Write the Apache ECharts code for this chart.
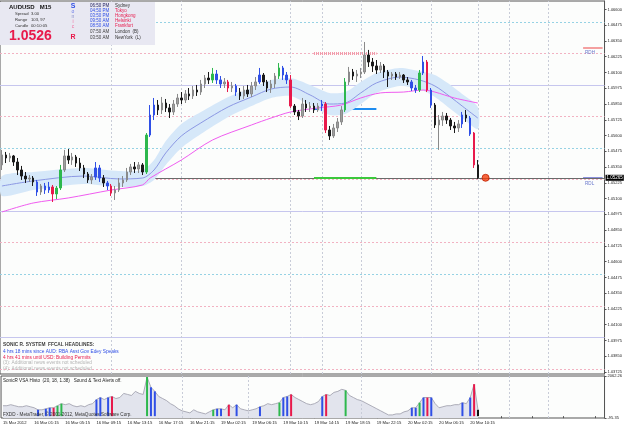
<!DOCTYPE html>
<html>
<head>
<meta charset="utf-8">
<title>AUDUSD M15</title>
<script src="https://cdn.jsdelivr.net/npm/echarts@6/dist/echarts.min.js"></script>
<style>
html, body { margin: 0; padding: 0; background: #fff; }
#chart { width: 625px; height: 429px; }
</style>
</head>
<body>
<div id="chart"></div>
<script>
// x axis tick labels, one every 8 bars
var timeLabels = ['15 Mar 2012', '16 Mar 01:15', '16 Mar 05:15', '16 Mar 09:15', '16 Mar 13:15', '16 Mar 17:15',
    '16 Mar 21:15', '19 Mar 02:15', '19 Mar 06:15', '19 Mar 10:15', '19 Mar 14:15', '19 Mar 18:15',
    '19 Mar 22:15', '20 Mar 02:15', '20 Mar 06:15', '20 Mar 10:15'];
var barCount = 155;

var priceTicks = [1.06600, 1.06475, 1.06350, 1.06225, 1.06100, 1.05975, 1.05850, 1.05725, 1.05600, 1.05475,
    1.05350, 1.05225, 1.05100, 1.04975, 1.04850, 1.04725, 1.04600, 1.04475, 1.04350, 1.04225,
    1.04100, 1.03975, 1.03850, 1.03725];

// [open, close, low, high]
var candles = [
    [1.05367,1.05446,1.05327,1.05486],[1.05446,1.05422,1.05382,1.05470],[1.05422,1.05438,1.05390,1.05462],
    [1.05438,1.05390,1.05359,1.05446],[1.05390,1.05327,1.05287,1.05422],[1.05327,1.05279,1.05248,1.05359],
    [1.05279,1.05256,1.05224,1.05311],[1.05256,1.05263,1.05232,1.05287],[1.05263,1.05232,1.05200,1.05279],
    [1.05232,1.05152,1.05121,1.05248],[1.05152,1.05200,1.05129,1.05216],[1.05200,1.05168,1.05137,1.05224],
    [1.05168,1.05192,1.05145,1.05232],[1.05192,1.05137,1.05073,1.05208],[1.05137,1.05184,1.05097,1.05200],
    [1.05184,1.05327,1.05168,1.05367],[1.05327,1.05438,1.05311,1.05486],[1.05438,1.05406,1.05375,1.05493],
    [1.05406,1.05430,1.05367,1.05462],[1.05430,1.05382,1.05351,1.05446],[1.05382,1.05343,1.05319,1.05422],
    [1.05343,1.05295,1.05263,1.05367],[1.05295,1.05248,1.05224,1.05311],[1.05248,1.05271,1.05216,1.05295],
    [1.05271,1.05343,1.05248,1.05390],[1.05343,1.05263,1.05232,1.05367],[1.05263,1.05224,1.05192,1.05287],
    [1.05224,1.05200,1.05168,1.05240],[1.05200,1.05145,1.05121,1.05216],[1.05145,1.05168,1.05089,1.05200],
    [1.05168,1.05224,1.05152,1.05263],[1.05224,1.05248,1.05192,1.05279],[1.05248,1.05311,1.05232,1.05343],
    [1.05311,1.05351,1.05287,1.05375],[1.05351,1.05335,1.05303,1.05390],[1.05335,1.05367,1.05303,1.05390],
    [1.05367,1.05311,1.05287,1.05382],[1.05311,1.05604,1.05295,1.05620],[1.05604,1.05763,1.05589,1.05842],
    [1.05763,1.05842,1.05723,1.05898],[1.05842,1.05803,1.05763,1.05882],[1.05803,1.05858,1.05771,1.05906],
    [1.05858,1.05819,1.05787,1.05890],[1.05819,1.05787,1.05739,1.05850],[1.05787,1.05850,1.05763,1.05882],
    [1.05850,1.05898,1.05827,1.05930],[1.05898,1.05882,1.05850,1.05945],[1.05882,1.05930,1.05858,1.05961],
    [1.05930,1.05914,1.05882,1.05977],[1.05914,1.05961,1.05890,1.05993],[1.05961,1.05945,1.05914,1.06001],
    [1.05945,1.06009,1.05922,1.06041],[1.06009,1.06056,1.05977,1.06080],[1.06056,1.06041,1.06009,1.06104],
    [1.06041,1.06088,1.06017,1.06136],[1.06088,1.06041,1.06009,1.06120],[1.06041,1.06009,1.05977,1.06072],
    [1.06009,1.06025,1.05977,1.06056],[1.06025,1.05977,1.05945,1.06041],[1.05977,1.05993,1.05945,1.06025],
    [1.05993,1.05945,1.05914,1.06009],[1.05945,1.05914,1.05882,1.05977],[1.05914,1.05961,1.05890,1.05993],
    [1.05961,1.05930,1.05906,1.06001],[1.05930,1.05993,1.05906,1.06025],[1.05993,1.06025,1.05961,1.06064],
    [1.06025,1.06080,1.06009,1.06136],[1.06080,1.06025,1.05993,1.06096],[1.06025,1.05977,1.05945,1.06041],
    [1.05977,1.06009,1.05938,1.06041],[1.06009,1.06072,1.05977,1.06096],[1.06072,1.06136,1.06049,1.06175],
    [1.06136,1.06080,1.06041,1.06152],[1.06080,1.06041,1.06009,1.06104],[1.06041,1.05834,1.05819,1.06080],
    [1.05834,1.05787,1.05763,1.05850],[1.05787,1.05755,1.05723,1.05803],[1.05755,1.05850,1.05739,1.05898],
    [1.05850,1.05819,1.05787,1.05882],[1.05819,1.05834,1.05787,1.05866],[1.05834,1.05803,1.05779,1.05858],
    [1.05803,1.05834,1.05787,1.05858],[1.05834,1.05850,1.05795,1.05882],[1.05850,1.05644,1.05620,1.05866],
    [1.05644,1.05597,1.05565,1.05676],[1.05597,1.05660,1.05581,1.05692],[1.05660,1.05708,1.05628,1.05739],
    [1.05708,1.05803,1.05684,1.05834],[1.05803,1.06025,1.05787,1.06056],[1.06025,1.06104,1.06001,1.06144],
    [1.06104,1.06072,1.06041,1.06128],[1.06072,1.06088,1.06025,1.06120],[1.06088,1.06104,1.06056,1.06136],
    [1.06104,1.06239,1.06088,1.06342],[1.06239,1.06183,1.06144,1.06279],[1.06183,1.06152,1.06104,1.06215],
    [1.06152,1.06120,1.06088,1.06199],[1.06120,1.06152,1.06096,1.06183],[1.06152,1.06104,1.06056,1.06167],
    [1.06104,1.06072,1.05985,1.06120],[1.06072,1.06088,1.06041,1.06104],[1.06088,1.06064,1.06041,1.06104],
    [1.06064,1.06080,1.06049,1.06104],[1.06080,1.06041,1.06017,1.06088],[1.06041,1.06025,1.06001,1.06064],
    [1.06025,1.05977,1.05953,1.06041],[1.05977,1.05961,1.05938,1.06001],[1.05961,1.06096,1.05945,1.06120],
    [1.06096,1.06183,1.06080,1.06231],[1.06183,1.05961,1.05945,1.06199],[1.05961,1.05842,1.05819,1.05977],
    [1.05842,1.05684,1.05660,1.05858],[1.05684,1.05723,1.05486,1.05763],[1.05723,1.05755,1.05676,1.05787],
    [1.05755,1.05723,1.05692,1.05779],[1.05723,1.05676,1.05644,1.05739],[1.05676,1.05660,1.05620,1.05708],
    [1.05660,1.05692,1.05628,1.05723],[1.05692,1.05763,1.05660,1.05787],[1.05763,1.05739,1.05708,1.05803],
    [1.05739,1.05612,1.05597,1.05755],[1.05620,1.05367,1.05343,1.05628],[1.05367,1.05265,1.05256,1.05406]
];

// VSA histogram
var volumes = [536,536,589,536,484,484,536,484,431,326, 326,378,431,431,536,641,589,641,536,484,
    536,484,589,641,852,957,852,957,1010,904, 957,1167,1115,1062,1273,1167,1115,2009,1483,1273,
    1010,904,799,641,536,378,273,221,168,326, 221,168,115,221,326,378,378,326,589,431,
    589,378,326,273,326,378,484,536,641,589, 641,694,957,1010,1115,957,852,747,641,589,
    641,747,1010,1115,1062,1220,1273,1378,1325,1062, 957,852,799,694,589,484,378,273,168,63,
    63,115,115,221,273,431,431,694,957,957, 957,641,431,484,536,536,589,589,694,641,
    957,1641,326];
var blueBars = [9, 11, 12, 24, 25, 27, 38, 39, 55, 56, 60, 66, 72, 73, 82, 105, 106, 108, 110, 118, 120];
var redBars = [13, 28, 58, 74, 83, 109, 121];
var greenBars = [14, 15, 37, 54, 71, 88, 107];
var blackBars = [122];
var volMin = -95.35, volMax = 2062.26;

// moving average band and slow average, [bar, price]
var bandMid = [[0,1.05200],[8,1.05240],[21,1.05279],[30,1.05256],[36,1.05263],[39,1.05327],[42,1.05462],
    [46,1.05597],[51,1.05700],[58,1.05827],[64,1.05906],[69,1.05969],[74,1.05985],[79,1.05922],[84,1.05850],
    [88,1.05858],[92,1.05938],[96,1.06017],[102,1.06064],[107,1.06041],[111,1.05993],[115,1.05906],
    [118,1.05834],[122,1.05739]];
var bandUpper = [[0,1.05279],[8,1.05311],[21,1.05343],[30,1.05319],[36,1.05327],[39,1.05406],[42,1.05557],
    [46,1.05692],[51,1.05787],[58,1.05906],[64,1.05977],[69,1.06041],[74,1.06056],[79,1.06001],[84,1.05938],
    [88,1.05945],[92,1.06025],[96,1.06096],[102,1.06136],[107,1.06112],[111,1.06080],[115,1.06001],
    [118,1.05930],[122,1.05827]];
var bandLower = [[0,1.05121],[8,1.05168],[21,1.05216],[30,1.05192],[36,1.05200],[39,1.05248],[42,1.05367],
    [46,1.05501],[51,1.05612],[58,1.05747],[64,1.05834],[69,1.05898],[74,1.05914],[79,1.05842],[84,1.05763],
    [88,1.05771],[92,1.05850],[96,1.05938],[102,1.05993],[107,1.05969],[111,1.05906],[115,1.05811],
    [118,1.05739],[122,1.05652]];
var slowLine = [[0,1.04994],[8,1.05065],[17,1.05105],[28,1.05168],[36,1.05208],[38,1.05263],[46,1.05406],
    [54,1.05565],[64,1.05684],[69,1.05739],[74,1.05787],[81,1.05819],[87,1.05842],[92,1.05898],[97,1.05938],
    [103,1.05945],[108,1.05961],[111,1.05945],[116,1.05898],[122,1.05858]];

// level lines
var lavenderLevels = [1.06, 1.05, 1.04];
var cyanLevels = [1.065, 1.055, 1.045];
var pinkLevels = [1.0625, 1.0575, 1.0525, 1.0475, 1.0425, 1.0375];
var lastPrice = 1.05265;
var rdhPrice = 1.06294, rdlPrice = 1.05271;
var boxTop = 1.06255, boxMid = 1.05811, boxBottom = 1.05265;
var boxFrom = 80, boxTo = 96;
var rightFrom = 149, rightTo = 154;
var mainSeparators = [28, 46, 74, 82, 92, 110, 122, 130, 140];
var histoSeparators = [46, 63, 92, 130, 140];

var BLUE = '#2f4fe6', RED = '#e8194b', GREEN = '#2db84d';
var FONT = '"Liberation Sans", Arial, sans-serif';

function vsaColor(i) {
    if (blueBars.indexOf(i) >= 0) return BLUE;
    if (redBars.indexOf(i) >= 0) return RED;
    if (greenBars.indexOf(i) >= 0) return GREEN;
    if (blackBars.indexOf(i) >= 0) return '#111';
    return null;
}

var cats = [];
for (var i = 0; i < barCount; i++) cats.push(String(i));

var candleData = candles.map(function (c, i) {
    var col = vsaColor(i);
    if (col && col !== '#111') {
        return { value: c, itemStyle: { color: col, color0: col, borderColor: col, borderColor0: col } };
    }
    return c;
});

var vsaBars = volumes.map(function (v, i) {
    var col = vsaColor(i);
    return col ? { value: v, itemStyle: { color: col } } : '-';
});

var levelLines = [];
lavenderLevels.forEach(function (v) {
    levelLines.push({ yAxis: v, lineStyle: { color: '#c6c6ee', type: 'solid', width: 1 } });
});
cyanLevels.forEach(function (v) {
    levelLines.push({ yAxis: v, lineStyle: { color: '#96d2e4', type: [2, 2], width: 1 } });
});
pinkLevels.forEach(function (v) {
    levelLines.push({ yAxis: v, lineStyle: { color: '#f2b2c2', type: [2, 2], width: 1 } });
});
mainSeparators.forEach(function (x) {
    levelLines.push({ xAxis: x, lineStyle: { color: '#c8ccd8', type: [2, 2], width: 1 } });
});
levelLines.push({
    yAxis: lastPrice,
    lineStyle: { color: '#6a6a6a', type: 'solid', width: 1 },
    label: {
        show: true, position: 'end', distance: 1, formatter: lastPrice.toFixed(5),
        backgroundColor: '#000', color: '#fff', fontSize: 4.5, fontFamily: FONT, padding: [1, 1, 0, 1]
    }
});
levelLines.push([{ coord: [boxFrom, boxTop] }, { coord: [boxTo, boxTop], lineStyle: { color: '#f29aa8', type: [1, 1], width: 3 } }]);
levelLines.push([{ coord: [boxFrom, boxMid] }, { coord: [boxTo, boxMid], lineStyle: { color: '#1e8cf0', type: 'solid', width: 2 } }]);
levelLines.push([{ coord: [boxFrom, boxBottom] }, { coord: [boxTo, boxBottom], lineStyle: { color: '#3cc83c', type: 'solid', width: 2 } }]);
levelLines.push([{ coord: [rightFrom, rdhPrice] }, { coord: [rightTo, rdhPrice], lineStyle: { color: '#f4a0a0', type: 'solid', width: 2 } }]);
levelLines.push([{ coord: [rightFrom, rdlPrice] }, { coord: [rightTo, rdlPrice], lineStyle: { color: '#8a90dc', type: 'solid', width: 1 } }]);

function txt(x, y, s, color, size, weight, align) {
    return {
        type: 'text', x: x, y: y, z: 100, silent: true,
        style: {
            text: s, fill: color, align: align || 'left', verticalAlign: 'middle',
            font: (weight || 'normal') + ' ' + size + 'px ' + FONT
        }
    };
}

var timeRows = [
    ['06:50 PM', '#202060', 'Sydney', '#303030'],
    ['04:50 PM', BLUE, 'Tokyo', RED],
    ['03:50 PM', BLUE, 'Hongkong', RED],
    ['09:50 AM', BLUE, 'Helsinki', RED],
    ['08:50 AM', BLUE, 'Frankfurt', RED],
    ['07:50 AM', '#404040', 'London  (B)', '#303030'],
    ['03:50 AM', '#404040', 'NewYork  (L)', '#303030']
];
var rowY = [5.7, 11, 16, 21, 26, 31.7, 37.3];

var graphics = [
    { type: 'rect', z: 99, silent: true, shape: { x: 0, y: 2, width: 155, height: 43 }, style: { fill: '#e8e8f2' } },
    txt(9, 7, 'AUDUSD   M15', '#111', 6, 'bold'),
    txt(15, 13.5, 'Spread', '#333', 4.2), txt(31, 13.5, '3.00', '#333', 4.2),
    txt(15, 19.5, 'Range', '#333', 4.2), txt(31, 19.5, '103, 97', '#333', 4.2),
    txt(15, 25.5, 'Candle', '#333', 4.2), txt(31, 25.5, '00:10:05', '#333', 4.2),
    txt(9, 36.5, '1.0526', RED, 14, 'bold'),
    txt(73, 6, 'S', BLUE, 7, 'bold', 'center'),
    txt(73, 12, 'o', '#6a7ae8', 5, 'normal', 'center'),
    txt(73, 17, 'n', '#8a90c8', 5, 'normal', 'center'),
    txt(73, 22, 'i', '#f070a0', 5, 'normal', 'center'),
    txt(73, 27, 'c', '#f070a0', 5, 'normal', 'center'),
    txt(73, 37, 'R', RED, 7, 'bold', 'center'),
    txt(3, 345, 'SONIC R. SYSTEM  FFCAL HEADLINES:', '#404040', 4.8, 'bold'),
    txt(3, 351.5, '4 hrs 18 mins since AUD: RBA Asst Gov Edey Speaks', BLUE, 4.8),
    txt(3, 357.5, '4 hrs 41 mins until USD: Building Permits', RED, 4.8),
    txt(3, 363, '(3): Additional news events not scheduled', '#b4b4b4', 4.8),
    txt(3, 368.5, '(4): Additional news events not scheduled', '#b4b4b4', 4.8),
    txt(3, 381, 'SonicR VSA Histo  (20, 18, 1.38)   Sound & Text Alerts off.', '#222', 4.6),
    txt(3, 414.5, 'FXDD - MetaTrader, \u00a9 2001-2012, MetaQuotes Software Corp.', '#333', 4.6),
    txt(585, 53, 'RDH', '#6a78cc', 4.6),
    txt(585, 183.5, 'RDL', '#6a78cc', 4.6)
];
timeRows.forEach(function (r, k) {
    graphics.push(txt(90, rowY[k], r[0], r[1], 4.5));
    graphics.push(txt(115, rowY[k], r[2], r[3], 4.5));
});

var chart = echarts.init(document.getElementById('chart'));
var option = {
    animation: false,
    backgroundColor: '#fff',
    grid: [
        { left: 0, right: 19, top: 1, height: 373, show: true, borderColor: '#555', borderWidth: 1, backgroundColor: '#fcfdfc' },
        { left: 0, right: 19, top: 376, height: 42, show: true, borderColor: '#555', borderWidth: 1, backgroundColor: '#fcfdfc' }
    ],
    xAxis: [
        { type: 'category', gridIndex: 0, data: cats, boundaryGap: true, show: false },
        {
            type: 'category', gridIndex: 1, data: cats, boundaryGap: true,
            axisLine: { show: false },
            axisTick: { show: true, interval: 7, alignWithLabel: true, length: 2, lineStyle: { color: '#555' } },
            axisLabel: {
                interval: 7, align: 'left', margin: 3, fontSize: 4.2, color: '#222', fontFamily: FONT,
                formatter: function (v, idx) { return timeLabels[idx / 8] || ''; }
            }
        }
    ],
    yAxis: [
        {
            type: 'value', gridIndex: 0, position: 'right', min: 1.03709, max: 1.06667,
            splitLine: { show: false },
            axisLine: { show: true, lineStyle: { color: '#555' } },
            axisTick: { show: true, customValues: priceTicks, length: 2, lineStyle: { color: '#555' } },
            axisLabel: {
                customValues: priceTicks, margin: 3, fontSize: 4, color: '#222', fontFamily: FONT,
                formatter: function (v) { return v.toFixed(5); }
            }
        },
        {
            type: 'value', gridIndex: 1, position: 'right', min: volMin, max: volMax,
            splitLine: { show: false },
            axisLine: { show: true, lineStyle: { color: '#555' } },
            axisTick: { show: true, customValues: [volMax, volMin], length: 2, lineStyle: { color: '#555' } },
            axisLabel: {
                customValues: [volMax, volMin], margin: 3, fontSize: 4, color: '#222', fontFamily: FONT,
                formatter: function (v) { return v.toFixed(2); }
            }
        }
    ],
    graphic: graphics,
    series: [
        {
            type: 'custom', xAxisIndex: 0, yAxisIndex: 0, z: 1, silent: true, clip: true,
            data: [[0, bandMid[0][1]]],
            renderItem: function (params, api) {
                var pts = bandUpper.map(function (p) { return api.coord(p); })
                    .concat(bandLower.slice().reverse().map(function (p) { return api.coord(p); }));
                return { type: 'polygon', shape: { points: pts, smooth: 0.25 }, style: { fill: '#d6e8f9' } };
            }
        },
        {
            type: 'line', xAxisIndex: 0, yAxisIndex: 0, z: 2, data: bandMid, smooth: 0.3,
            symbol: 'none', lineStyle: { color: '#8c98e4', width: 1 }
        },
        {
            type: 'line', xAxisIndex: 0, yAxisIndex: 0, z: 2, data: slowLine, smooth: 0.3,
            symbol: 'none', lineStyle: { color: '#f05cf0', width: 1 }
        },
        {
            type: 'candlestick', xAxisIndex: 0, yAxisIndex: 0, z: 3, data: candleData, barWidth: 2,
            itemStyle: { color: '#a0a0a0', color0: '#1a1a1a', borderColor: '#8a8a8a', borderColor0: '#1a1a1a', borderWidth: 1 },
            markLine: { silent: true, precision: 5, symbol: ['none', 'none'], label: { show: false }, data: levelLines, z: 1 }
        },
        {
            type: 'scatter', xAxisIndex: 0, yAxisIndex: 0, z: 6, data: [[candles.length + 1, lastPrice]],
            symbolSize: 7, itemStyle: { color: '#f2400e', borderColor: '#c02000', borderWidth: 1 }
        },
        {
            type: 'line', xAxisIndex: 1, yAxisIndex: 1, z: 1, data: volumes, symbol: 'none',
            lineStyle: { color: '#9a9aa8', width: 0.8 },
            areaStyle: { color: '#e2e4ed', origin: 'start', opacity: 1 },
            markLine: {
                silent: true, symbol: ['none', 'none'], label: { show: false },
                data: histoSeparators.map(function (x) {
                    return { xAxis: x, lineStyle: { color: '#c8ccd8', type: [2, 2], width: 1 } };
                })
            }
        },
        {
            type: 'bar', xAxisIndex: 1, yAxisIndex: 1, z: 3, data: vsaBars, barWidth: 2
        }
    ]
};
chart.setOption(option);
</script>
</body>
</html>
